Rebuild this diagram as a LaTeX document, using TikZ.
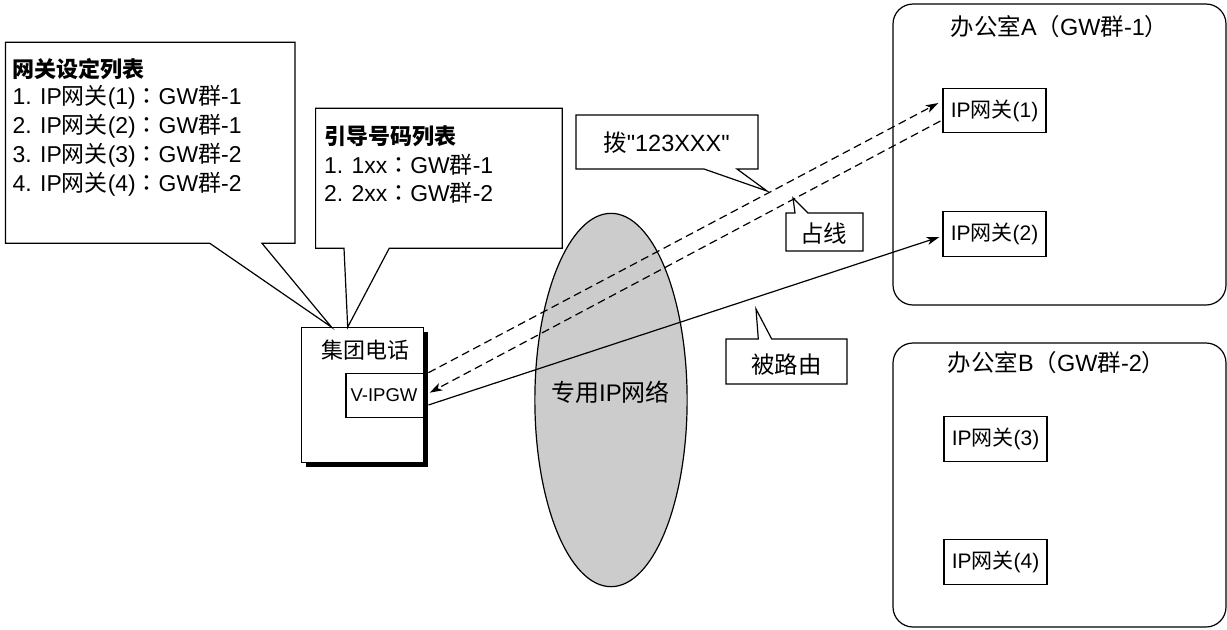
\documentclass[tikz,border=0pt]{standalone}
\usepackage{fontspec}
\setmainfont{Liberation Sans}[Ligatures=TeXOff]
\newfontfamily\cjk{Noto Sans CJK SC}
\newfontfamily\cjktc{Noto Sans CJK TC}
\usetikzlibrary{shapes.geometric,arrows.meta,calc,shadows}
\newcommand\zh[1]{{\cjk #1}}
\newcommand\zhcol{{\cjktc ：}}
\definecolor{netgray}{HTML}{CCCCCC}
\begin{document}
\begin{tikzpicture}[x=0.75pt,y=-0.75pt, line width=0.9pt,
  every node/.style={inner sep=0pt},
  lst/.style={anchor=base west, font=\fontsize{17.2}{19}\selectfont},
  lsttitle/.style={anchor=base west, font=\fontsize{16.5}{19}\selectfont},
  box/.style={draw, fill=white},
  gw/.style={box, minimum width=77.25pt, minimum height=33.4pt, font=\fontsize{15.75}{18}\selectfont},
  office/.style={draw, rounded corners=15pt, minimum width=249.75pt},
  lbl/.style={anchor=base, font=\fontsize{17.6}{20}\selectfont},
  ttl/.style={anchor=base west, font=\fontsize{17.6}{20}\selectfont},
  callout/.style={draw, fill=white, line join=miter},
  dsh/.style={dash pattern=on 6pt off 3.5pt},
  arr/.style={-{Stealth[length=9.5pt,width=6pt,inset=2.5pt]}}
]
\useasboundingbox (0,0) rectangle (1227,629);

% private IP network
\node[ellipse, draw, fill=netgray, minimum width=114.2pt, minimum height=280pt] (net) at (611,400) {};
\node[anchor=base, font=\fontsize{18}{20}\selectfont] (netlbl) at (610.5,401.5) {\zh{专用}IP\zh{网络}};

% offices
\node[office, minimum height=225.75pt] (offA) at (1059.5,154.5) {};
\node[ttl] (offAt) at (950,35.3) {\zh{办公室}A\zh{（}GW\zh{群}-1\zh{）}};
\node[office, minimum height=213pt] (offB) at (1059.5,485) {};
\node[ttl] (offBt) at (947,371) {\zh{办公室}B\zh{（}GW\zh{群}-2\zh{）}};

\node[gw] (gw1) at (994.5,110.5) {IP\zh{网关}(1)};
\node[gw] (gw2) at (994.5,234) {IP\zh{网关}(2)};
\node[gw] (gw3) at (995.5,439) {IP\zh{网关}(3)};
\node[gw] (gw4) at (995.5,562) {IP\zh{网关}(4)};

% PBX
\node[box, minimum width=91.2pt, minimum height=101.25pt,
      drop shadow={shadow xshift=3.4pt, shadow yshift=-3.4pt, fill=black, opacity=1}] (pbx) at (362.5,395.2) {};
\node[anchor=base, font=\fontsize{16.5}{18}\selectfont] (pbxt) at (365.5,358) {\zh{集团电话}};
\node[box, minimum width=58pt, minimum height=33pt] (vipgw) at (384.65,395.3) {};
\node[anchor=base, font=\fontsize{13.9}{16}\selectfont] (vipgwt) at (384,401.7) {V-IPGW};

% callout: gateway settings list
\draw[callout] (5.5,42.3) -- (295,42.3) -- (295,243.3) -- (262,243.3)
  -- ($(pbx.north)+(-31,0)$) -- (209.8,243.3) -- (5.5,243.3) -- cycle;
\node[lsttitle] (l1t) at (12,77.5) {\zh{\bfseries 网关设定列表}};
\node[lst] (l1a) at (12,104.5) {1. IP\zh{网关}(1)\zhcol GW\zh{群}-1};
\node[lst] (l1b) at (12,133.5) {2. IP\zh{网关}(2)\zhcol GW\zh{群}-1};
\node[lst] (l1c) at (12,162.5) {3. IP\zh{网关}(3)\zhcol GW\zh{群}-2};
\node[lst] (l1d) at (12,191.5) {4. IP\zh{网关}(4)\zhcol GW\zh{群}-2};

% callout: leading number list
\draw[callout] (315.6,108.3) -- (562.3,108.3) -- (562.3,248.3) -- (389.2,248.3)
  -- ($(pbx.north)+(-14.8,0)$) -- (344,248.3) -- (315.6,248.3) -- cycle;
\node[lsttitle] (l2t) at (323.5,144.5) {\zh{\bfseries 引导号码列表}};
\node[lst] (l2a) at (323.5,173) {1. 1xx\zhcol GW\zh{群}-1};
\node[lst] (l2b) at (323.5,201.3) {2. 2xx\zhcol GW\zh{群}-2};

% small callouts
\draw[callout] (576,115) -- (758,115) -- (758,169) -- (737,169) -- (767,191)
  -- (704,169) -- (576,169) -- cycle;
\node[lbl] (dial) at (666.5,151.7) {\zh{拨}"123XXX"};

\draw[callout] (786,213) -- (795,213) -- (793,198) -- (808,213) -- (863,213)
  -- (863,251) -- (786,251) -- cycle;
\node[lbl] (busy) at (823.5,242) {\zh{占线}};

\draw[callout] (726,339) -- (758.3,339) -- (756,309) -- (771.7,339) -- (847,339)
  -- (847,384) -- (726,384) -- cycle;
\node[lbl] (routed) at (786.5,373.5) {\zh{被路由}};

% connectors
\draw[dsh, arr] ($(vipgw.north east)+(4.5,0)$) -- ($(gw1.west)+(-4,-7.5)$);
\draw[dsh, arr] ($(gw1.west)+(-2,10.5)$) -- ($(vipgw.east)+(5.7,-2.6)$);
\draw[arr] ($(vipgw.east)+(4.5,9.7)$) -- ($(gw2.west)+(-3,3)$);
\end{tikzpicture}
\end{document}
